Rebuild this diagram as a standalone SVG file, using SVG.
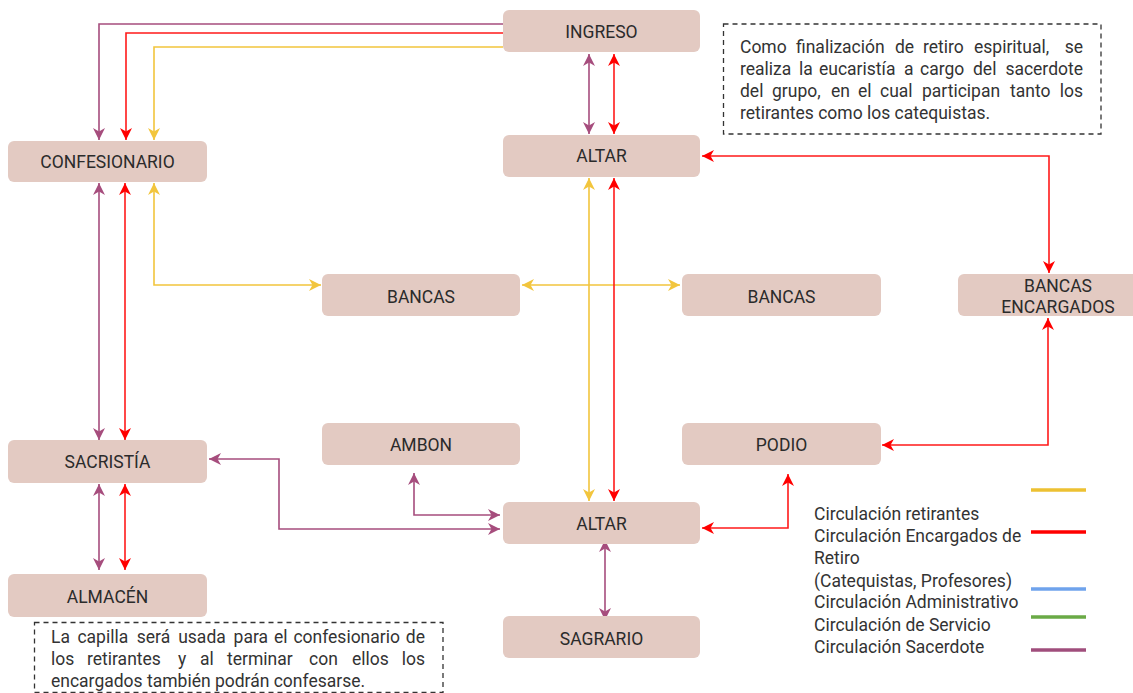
<svg xmlns="http://www.w3.org/2000/svg" width="1133" height="693" viewBox="0 0 1133 693">
<style>
.node rect{fill:#E3CAC2;}
.node text{font-family:Roboto,"Liberation Sans",sans-serif;font-size:17.5px;fill:#2b2b2b;text-anchor:middle;}
.note rect{fill:none;stroke:#333;stroke-width:1.3;stroke-dasharray:5 4;}
.note text,.legend text{font-family:Roboto,"Liberation Sans",sans-serif;font-size:17.5px;fill:#333;}
.c{fill:none;stroke-width:1.6;}
.y{stroke:#F2C53D;}
.r{stroke:#FF1A1A;}
.p{stroke:#A64D7D;}
.y.b{marker-start:url(#ay);marker-end:url(#ay);}
.r.b{marker-start:url(#ar);marker-end:url(#ar);}
.p.b{marker-start:url(#ap);marker-end:url(#ap);}
.y.e{marker-end:url(#ay);}
.r.e{marker-end:url(#ar);}
.p.e{marker-end:url(#ap);}
.legend line{stroke-width:3.5;}
</style>
<defs>
<marker id="ay" viewBox="0 0 12 12" refX="12" refY="6" markerWidth="12" markerHeight="12" markerUnits="userSpaceOnUse" orient="auto-start-reverse"><path d="M0,0 L12,6 L0,12 L3.5,6 z" fill="#F2C53D"/></marker>
<marker id="ar" viewBox="0 0 12 12" refX="12" refY="6" markerWidth="12" markerHeight="12" markerUnits="userSpaceOnUse" orient="auto-start-reverse"><path d="M0,0 L12,6 L0,12 L3.5,6 z" fill="#FF0000"/></marker>
<marker id="ap" viewBox="0 0 12 12" refX="12" refY="6" markerWidth="12" markerHeight="12" markerUnits="userSpaceOnUse" orient="auto-start-reverse"><path d="M0,0 L12,6 L0,12 L3.5,6 z" fill="#A64D7D"/></marker>
</defs>
<rect width="1133" height="693" fill="#fff"/>

<g id="connectors">
<path class="c p e" d="M503,24 H99 V140"/>
<path class="c r e" d="M503,33 H126 V140"/>
<path class="c y e" d="M503,47 H154 V140"/>
<path class="c p b" d="M589,54 V134"/>
<path class="c r b" d="M614,54 V134"/>
<path class="c p b" d="M99,183 V440"/>
<path class="c r b" d="M125,183 V440"/>
<path class="c y b" d="M154,183 V285 H321"/>
<path class="c y b" d="M522,285 H680"/>
<path class="c y b" d="M589,178 V501"/>
<path class="c r b" d="M614,178 V501"/>
<path class="c r b" d="M702,156 H1049 V273"/>
<path class="c r b" d="M1048,318 V445 H882"/>
<path class="c r b" d="M788,474 V528 H702"/>
<path class="c p b" d="M99,484 V570"/>
<path class="c r b" d="M125,484 V570"/>
<path class="c p b" d="M209,459 H279 V529 H500"/>
<path class="c p b" d="M414,473 V515 H500"/>
<path class="c p b" d="M605,540 V620"/>
</g>

<g id="ingreso" class="node"><rect x="503" y="10" width="197" height="42" rx="6"/><text x="601.5" y="38">INGRESO</text></g>
<g id="altar-top" class="node"><rect x="503" y="135" width="197" height="42" rx="6"/><text x="601.5" y="162">ALTAR</text></g>
<g id="confesionario" class="node"><rect x="8" y="141" width="199" height="41" rx="6"/><text x="107.5" y="168">CONFESIONARIO</text></g>
<g id="bancas-left" class="node"><rect x="322" y="274" width="198" height="42" rx="6"/><text x="421" y="303">BANCAS</text></g>
<g id="bancas-right" class="node"><rect x="682" y="274" width="199" height="42" rx="6"/><text x="781.5" y="303">BANCAS</text></g>
<g id="bancas-encargados" class="node"><rect x="958" y="274" width="199" height="42" rx="6"/><text x="1058" y="292">BANCAS</text><text x="1058" y="313">ENCARGADOS</text></g>
<g id="sacristia" class="node"><rect x="8" y="440" width="199" height="43" rx="6"/><text x="107.5" y="468">SACRISTÍA</text></g>
<g id="ambon" class="node"><rect x="322" y="423" width="198" height="42" rx="6"/><text x="421" y="451">AMBON</text></g>
<g id="podio" class="node"><rect x="682" y="423" width="199" height="42" rx="6"/><text x="781.5" y="451">PODIO</text></g>
<g id="altar-bottom" class="node"><rect x="503" y="502" width="197" height="42" rx="6"/><text x="601.5" y="530">ALTAR</text></g>
<g id="almacen" class="node"><rect x="8" y="574" width="199" height="43" rx="6"/><text x="107.5" y="603">ALMACÉN</text></g>
<g id="sagrario" class="node"><rect x="503" y="616" width="197" height="42" rx="6"/><text x="601.5" y="645">SAGRARIO</text></g>

<g id="note-top" class="note">
<rect x="723.5" y="24" width="377.5" height="110"/>
<text y="53"><tspan x="740">Como</tspan><tspan x="796">finalización</tspan><tspan x="895">de</tspan><tspan x="923">retiro</tspan><tspan x="974">espiritual,</tspan><tspan x="1083" text-anchor="end">se</tspan></text>
<text y="75"><tspan x="740">realiza</tspan><tspan x="799">la</tspan><tspan x="819">eucaristía</tspan><tspan x="904">a</tspan><tspan x="920">cargo</tspan><tspan x="973">del</tspan><tspan x="1083" text-anchor="end">sacerdote</tspan></text>
<text y="97"><tspan x="740">del</tspan><tspan x="772">grupo,</tspan><tspan x="831">en</tspan><tspan x="858">el</tspan><tspan x="880">cual</tspan><tspan x="922">participan</tspan><tspan x="1010">tanto</tspan><tspan x="1083" text-anchor="end">los</tspan></text>
<text x="740" y="119">retirantes como los catequistas.</text>
</g>

<g id="note-bottom" class="note">
<rect x="34.5" y="622.5" width="408.5" height="70"/>
<text y="643"><tspan x="51">La</tspan><tspan x="77.4">capilla</tspan><tspan x="136.8">será</tspan><tspan x="178.2">usada</tspan><tspan x="233.6">para</tspan><tspan x="274">el</tspan><tspan x="293.4">confesionario</tspan><tspan x="425" text-anchor="end">de</tspan></text>
<text y="665"><tspan x="51">los</tspan><tspan x="87">retirantes</tspan><tspan x="178">y</tspan><tspan x="200">al</tspan><tspan x="227">terminar</tspan><tspan x="309">con</tspan><tspan x="352">ellos</tspan><tspan x="425" text-anchor="end">los</tspan></text>
<text x="51" y="687">encargados también podrán confesarse.</text>
</g>

<g id="legend" class="legend">
<text x="814" y="520">Circulación retirantes</text>
<text x="814" y="542">Circulación Encargados de</text>
<text x="814" y="564">Retiro</text>
<text x="814" y="587">(Catequistas, Profesores)</text>
<text x="814" y="608">Circulación Administrativo</text>
<text x="814" y="631">Circulación de Servicio</text>
<text x="814" y="653">Circulación Sacerdote</text>
<line x1="1031" y1="490" x2="1086" y2="490" stroke="#EDC132"/>
<line x1="1031" y1="532" x2="1086" y2="532" stroke="#FF0000"/>
<line x1="1031" y1="589" x2="1086" y2="589" stroke="#6FA3EC"/>
<line x1="1031" y1="617" x2="1086" y2="617" stroke="#6AAA46"/>
<line x1="1031" y1="650" x2="1086" y2="650" stroke="#A04E7C"/>
</g>
</svg>
